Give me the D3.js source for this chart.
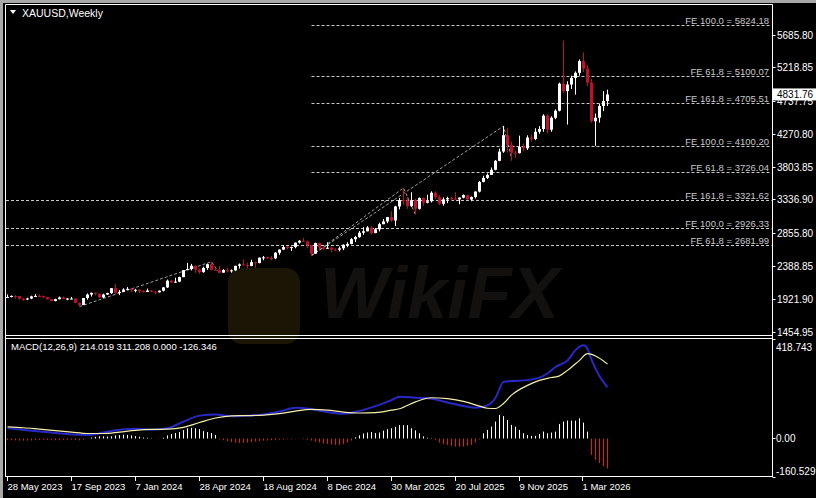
<!DOCTYPE html>
<html><head><meta charset="utf-8">
<script src="https://cdn.jsdelivr.net/npm/d3@7"></script>
<style>
html,body{margin:0;padding:0;background:#a8a8a8;}
svg{display:block;}
text{font-family:"Liberation Sans",Arial,sans-serif;}
</style></head><body>
<svg id="c" width="816" height="498"></svg>
<script>
// ---------- DATA ----------
const symbolTitle = "XAUUSD,Weekly";
const macdTitle = "MACD(12,26,9) 214.019 311.208 0.000 -126.346";
const dateTickIndex = [0,16,32,48,64,80,96,112,128,144];
const dateTickLabels = ["28 May 2023","17 Sep 2023","7 Jan 2024","28 Apr 2024","18 Aug 2024","8 Dec 2024","30 Mar 2025","20 Jul 2025","9 Nov 2025","1 Mar 2026"];
const priceTicks = [5685.80,5218.85,4737.75,4270.80,3803.85,3336.90,2855.80,2388.85,1921.90,1454.95];
const macdTicks = [418.743, 0, -160.529];
const macdTickLabels = ["418.743","0.00","-160.529"];
const lastPrice = 4831.76;

const opens = [1946,1948,1961,1958,1921,1919,1925,1955,1962,1959,
1943,1914,1889,1915,1940,1919,1924,1925,1864,1833,
1932,1981,2006,1993,1940,1981,2002,2072,2005,2020,
2053,2063,2046,2049,2029,2018,2039,2024,2013,2036,
2083,2179,2155,2165,2230,2330,2344,2392,2337,2301,
2360,2414,2334,2327,2293,2332,2321,2326,2391,2411,
2400,2387,2443,2431,2507,2512,2503,2497,2577,2622,
2658,2653,2657,2721,2747,2736,2684,2563,2715,2650,
2633,2648,2622,2621,2640,2690,2702,2770,2800,2861,
2883,2936,2858,2910,2984,3022,3085,3037,3237,3327,
3319,3241,3325,3203,3357,3289,3310,3432,3368,3274,
3337,3355,3350,3337,3363,3398,3335,3371,3448,3586,
3643,3685,3759,3886,4018,4251,4112,4002,3996,4085,
4065,4218,4198,4300,4340,4530,4330,4500,4600,4985,
4880,4973,5068,5140,5307,5200,5000,4450,4500,4667,
4738];
const highs = [1983,1970,1971,1963,1933,1935,1965,1987,1983,1968,
1948,1916,1922,1953,1953,1933,1947,1926,1866,1933,
1997,2009,2010,1993,1993,2008,2075,2135,2047,2071,
2088,2079,2062,2059,2041,2066,2048,2031,2041,2088,
2195,2185,2222,2236,2331,2432,2418,2394,2353,2378,
2422,2450,2364,2387,2343,2368,2339,2392,2424,2483,
2432,2477,2446,2509,2531,2525,2529,2586,2625,2686,
2672,2665,2722,2759,2790,2750,2690,2721,2721,2657,
2726,2664,2639,2665,2697,2726,2786,2817,2886,2942,
2955,2956,2930,3004,3057,3087,3168,3245,3358,3500,
3368,3438,3345,3366,3366,3403,3452,3452,3398,3365,
3375,3377,3439,3363,3409,3404,3379,3453,3600,3674,
3707,3791,3897,4059,4381,4359,4161,4030,4245,4132,
4250,4264,4350,4380,4550,4550,4520,4620,5000,5600,
5020,5100,5160,5330,5430,5250,5050,4560,4700,4880,
4900];
const lows = [1932,1940,1924,1911,1893,1902,1915,1952,1942,1929,
1910,1885,1884,1913,1915,1901,1913,1857,1810,1831,
1908,1953,1970,1932,1931,1975,1992,1993,1973,2016,
2046,2016,2013,2002,2010,2016,2015,1984,2010,2025,
2076,2146,2146,2157,2229,2326,2324,2291,2277,2291,
2333,2325,2325,2287,2293,2295,2293,2319,2352,2393,
2353,2385,2364,2425,2470,2491,2472,2485,2546,2615,
2624,2603,2640,2708,2729,2643,2536,2563,2605,2613,
2632,2583,2603,2596,2614,2656,2697,2730,2789,2832,
2880,2833,2853,2880,2982,2999,3015,2957,3194,3260,
3202,3228,3120,3190,3245,3280,3293,3340,3255,3247,
3283,3310,3324,3268,3353,3330,3311,3350,3437,3578,
3627,3685,3750,3880,4000,4004,3886,3930,3990,4022,
4040,4160,4180,4270,4300,4275,4300,4480,4590,4850,
4403,4910,4830,5100,5150,4950,4430,4100,4430,4595,
4667];
const closes = [1948,1961,1958,1921,1919,1925,1955,1962,1959,1943,
1914,1889,1915,1940,1919,1924,1925,1864,1833,1932,
1981,2006,1993,1940,1981,2002,2072,2005,2020,2053,
2063,2046,2049,2029,2018,2039,2024,2013,2036,2083,
2179,2155,2165,2230,2330,2344,2392,2337,2301,2360,
2414,2334,2327,2293,2332,2321,2326,2391,2411,2400,
2387,2443,2431,2507,2512,2503,2497,2577,2622,2658,
2653,2657,2721,2747,2736,2684,2563,2715,2650,2633,
2648,2622,2621,2640,2690,2702,2770,2800,2861,2883,
2936,2858,2910,2984,3022,3085,3037,3237,3327,3319,
3241,3325,3203,3357,3289,3310,3432,3368,3274,3337,
3355,3350,3337,3363,3398,3335,3371,3448,3586,3643,
3685,3759,3886,4018,4251,4112,4002,3996,4085,4065,
4218,4198,4300,4340,4530,4330,4500,4600,4985,4880,
4973,5068,5140,5307,5200,5000,4450,4500,4667,4738,
4831.76];

// Fibonacci expansion levels (labels + prices) and where each starts (bar index, -1 = left edge)
const feLabels = ["FE 100.0 = 5824.18","FE 61.8 = 5100.07","FE 161.8 = 4705.51","FE 100.0 = 4100.20","FE 61.8 = 3726.04","FE 161.8 = 3321.62","FE 100.0 = 2926.33","FE 61.8 = 2681.99"];
const feLevels = [5824.18,5100.07,4705.51,4100.20,3726.04,3321.62,2926.33,2681.99];
const feStartBar = [76,76,76,76,76,-1,-1,-1];
// FE construction paths: [bar, price] points
const fePath1 = [[18,1810],[51,2450],[53,2287]];
const fePath2 = [[76,2536],[99,3500],[102,3120]];
const fePath3 = [[76,2536],[124,4381],[126,3929]];

// MACD histogram (one per bar)
const macdHist = [-8,-8,-9,-10,-10,-10,-9,-8,-7,-7,-7,-8,-8,-8,-7,-7,-6,-7,
-9,-6,
-1,3,6,8,8,7,8,12,13,15,14,
12,9,6,3,2,0,-2,-2,
2,12,18,22,26,34,42,44,42,38,30,26,22,14,
-4,-8,-12,-16,-18,-20,-20,-18,-16,-14,-12,-10,-10,-8,
-8,-6,-6,-4,-4,-2,-2,-4,-6,
-10,-14,-18,-22,-24,-26,-28,-28,-24,-18,-10,
4,12,20,24,26,22,24,32,38,42,48,55,
55,55,42,33,21,8,2,0,
-7,-18,-24,-28,-32,-35,-35,-35,-32,-28,-18,-5,
21,35,49,70,98,93,77,56,49,35,21,14,10,10,18,28,21,24,28,60,70,74,74,74,84,66,28,
-70,-91,-104,-118,-126.346];
// MACD main (blue) and signal (yellow) lines read at sample bars
const blueBars = [0,4,8,12,16,20,24,28,32,36,40,44,48,52,56,60,64,68,72,76,80,84,88,92,96,98,102,106,110,114,117,120,122,124,126,130,135,137,140,142,144,145,146,148,150];
const blueVals = [42,35,28,22,16,14,24,36,40,36,42,70,95,100,92,95,100,112,128,122,110,103,115,135,160,174,170,166,150,135,128,138,170,236,240,244,272,299,327,370,390,376,330,260,214.019];
const yellowBars = [0,4,8,12,16,20,24,28,32,36,40,44,48,52,56,60,64,68,72,76,80,84,88,92,96,98,102,106,110,114,118,120,122,124,126,130,133,136,138,140,143,145,147,150];
const yellowVals = [48,44,38,32,26,20,20,26,33,37,38,46,66,85,94,95,97,103,114,121,118,110,106,108,118,124,153,170,166,155,135,126,125,146,181,222,243,255,262,285,327,355,345,311.208];

// ---------- DRAW ----------
const svg = d3.select("#c");
const W = 816, H = 498;
const axisX = 772.5;
svg.append("rect").attr("x",3).attr("y",3).attr("width",W-3).attr("height",H-3).attr("fill","#000");

const x = d3.scaleLinear().domain([0,150]).range([7.5,607.5]);
const y = d3.scaleLinear().domain([1454.95,5685.80]).range([331.5,34.5]);
const ym = d3.scaleLinear().domain([-160.529,418.743]).range([476.5,338.5]);

// watermark (faint)
const wm = svg.append("g");
wm.append("rect").attr("x",228).attr("y",268).attr("width",72).attr("height",76).attr("rx",14).attr("fill","#1b1506");
wm.append("text").attr("x",320).attr("y",318).attr("font-size",72).attr("font-weight","bold").attr("font-style","italic")
  .attr("fill","#121110").text("WikiFX");

// frame lines
const frame = svg.append("g").attr("stroke","#fff").attr("stroke-width",1).attr("fill","none");
frame.append("path").attr("d",`M5.5,477 V4.5 H${axisX} V477`);
frame.append("path").attr("d",`M5.5,335.5 H${axisX} M5.5,338.5 H${axisX} M5.5,476.5 H${axisX}`);

// title
svg.append("path").attr("d","M10,10 L16,10 L13,14 Z").attr("fill","#fff");
svg.append("text").attr("x",22).attr("y",17).attr("font-size",10.5).attr("fill","#fff").text(symbolTitle);

// FE levels
const feG = svg.append("g");
feLevels.forEach((lv,i)=>{
  const yy = Math.round(y(lv))+0.5;
  const x0 = feStartBar[i] < 0 ? 6 : x(feStartBar[i]);
  feG.append("line").attr("x1",x0).attr("x2",axisX-1).attr("y1",yy).attr("y2",yy)
    .attr("stroke","#c8c8c8").attr("stroke-width",1).attr("stroke-dasharray","3,2");
  feG.append("text").attr("x",769).attr("y",yy-2).attr("text-anchor","end")
    .attr("font-size",9.5).attr("fill","#c8c8c8").text(feLabels[i]);
});
const pathLine = d3.line().x(d=>x(d[0])).y(d=>y(d[1]));
[fePath1,fePath2,fePath3].forEach(p=>{
  feG.append("path").attr("d",pathLine(p)).attr("fill","none").attr("stroke","#c8c8c8")
    .attr("stroke-width",0.8).attr("stroke-dasharray","3,2");
});

// candles
const cg = svg.append("g");
closes.forEach((c,i)=>{
  const o = opens[i], h = highs[i], l = lows[i];
  const bull = c >= o;
  const col = bull ? "#ffffff" : "#c0102a";
  const cx = x(i);
  cg.append("line").attr("x1",cx).attr("x2",cx).attr("y1",y(h)).attr("y2",y(l)).attr("stroke",col).attr("stroke-width",1);
  const top = y(Math.max(o,c)), bot = y(Math.min(o,c));
  cg.append("rect").attr("x",cx-1.5).attr("y",top).attr("width",3).attr("height",Math.max(1,bot-top)).attr("fill",col);
});

// price axis
const pa = svg.append("g");
priceTicks.forEach(v=>{
  const yy = Math.round(y(v))+0.5;
  pa.append("line").attr("x1",axisX).attr("x2",axisX+3).attr("y1",yy).attr("y2",yy).attr("stroke","#fff");
  pa.append("text").attr("x",777).attr("y",yy+3.5).attr("font-size",10).attr("fill","#fff").text(v.toFixed(2));
});
// last price box
const ly = y(lastPrice);
svg.append("rect").attr("x",773).attr("y",ly-6).attr("width",43).attr("height",12).attr("fill","#fff");
svg.append("text").attr("x",777).attr("y",ly+3.5).attr("font-size",10).attr("fill","#000").text(lastPrice.toFixed(2));

// MACD histogram
const hg = svg.append("g");
const y0 = Math.round(ym(0))+0.5;
macdHist.forEach((v,i)=>{
  const cx = x(i);
  hg.append("line").attr("x1",cx).attr("x2",cx).attr("y1",y0).attr("y2",ym(v))
    .attr("stroke", v>=0 ? "#ffffff" : "#e01828").attr("stroke-width",1);
});
const mline = d3.line().curve(d3.curveMonotoneX);
svg.append("path").attr("d",mline(blueBars.map((b,i)=>[x(b),ym(blueVals[i])])))
  .attr("fill","none").attr("stroke","#2828c8").attr("stroke-width",2);
svg.append("path").attr("d",mline(yellowBars.map((b,i)=>[x(b),ym(yellowVals[i])])))
  .attr("fill","none").attr("stroke","#f4f0a8").attr("stroke-width",1.2);

svg.append("text").attr("x",11).attr("y",349.5).attr("font-size",9.5).attr("fill","#fff").text(macdTitle);

// MACD axis
const ma = svg.append("g");
macdTicks.forEach((v,i)=>{
  const yy = Math.round(ym(v))+0.5;
  ma.append("line").attr("x1",axisX).attr("x2",axisX+3).attr("y1",yy).attr("y2",yy).attr("stroke","#fff");
  const ty = i===0 ? yy+11 : (i===2 ? yy-3 : yy+3.5);
  ma.append("text").attr("x",776).attr("y",ty).attr("font-size",10).attr("fill","#fff").text(macdTickLabels[i]);
});

// date axis
const da = svg.append("g");
dateTickIndex.forEach((b,i)=>{
  const xx = Math.round(x(b))-0.5;
  da.append("line").attr("x1",xx).attr("x2",xx).attr("y1",476.5).attr("y2",481).attr("stroke","#fff");
  da.append("text").attr("x",xx).attr("y",490).attr("font-size",9.5).attr("fill","#fff").text(dateTickLabels[i]);
});
</script>
</body></html>
